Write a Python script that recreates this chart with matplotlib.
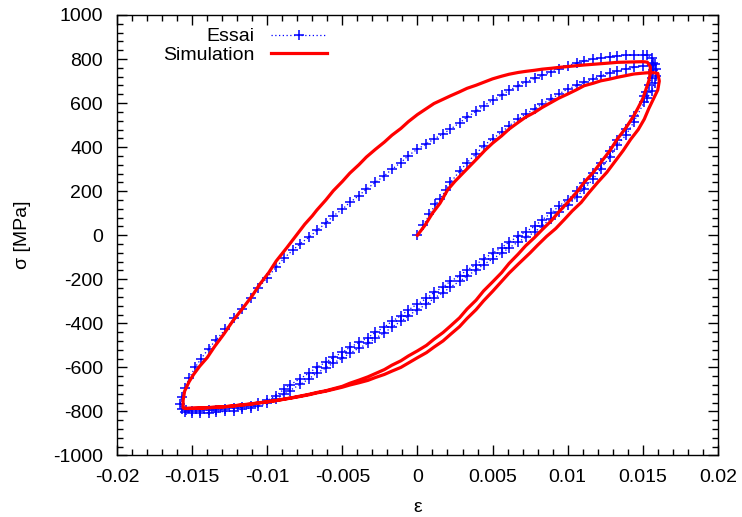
import numpy as np
import matplotlib.pyplot as plt
from matplotlib.ticker import MultipleLocator

essai_load = [(0, 0), (0.0004, 45), (0.0008, 95), (0.0012, 140), (0.0015, 164), (0.0019, 205),
              (0.0022, 240), (0.0028, 290), (0.0033, 330), (0.0039, 370), (0.0044, 406), (0.0050, 438),
              (0.0056, 467), (0.0061, 497), (0.0067, 527), (0.0072, 550), (0.0078, 573), (0.0083, 596),
              (0.0089, 618), (0.0094, 641), (0.0100, 664), (0.0106, 680), (0.0111, 694), (0.0117, 710),
              (0.0122, 724), (0.0128, 736), (0.0133, 747), (0.0139, 755), (0.0144, 762), (0.0150, 768),
              (0.0156, 773), (0.0158, 778)]
essai_unload1 = [(0.0159, 755), (0.0159, 725), (0.0158, 690), (0.0156, 655), (0.0153, 625), (0.0151, 605),
                 (0.0144, 514), (0.0139, 457), (0.0133, 408), (0.0128, 355), (0.0122, 302), (0.0117, 255),
                 (0.0111, 211), (0.0106, 173), (0.0100, 136), (0.0094, 105), (0.0089, 75), (0.0083, 44),
                 (0.0078, 14), (0.0072, -10), (0.0067, -31), (0.0061, -57), (0.0056, -82), (0.0050, -108),
                 (0.0044, -133), (0.0039, -159), (0.0033, -184), (0.0028, -210), (0.0022, -235), (0.0017, -261),
                 (0.0011, -286), (0.0006, -313), (0, -338), (-0.0006, -365), (-0.0011, -391), (-0.0017, -417),
                 (-0.0022, -443), (-0.0028, -467), (-0.0033, -491), (-0.0039, -513), (-0.0045, -535),
                 (-0.0050, -558), (-0.0056, -580), (-0.0061, -603), (-0.0067, -625), (-0.0072, -651),
                 (-0.0078, -677), (-0.0085, -705), (-0.0089, -722), (-0.0094, -745), (-0.0100, -764),
                 (-0.0106, -776), (-0.0111, -784), (-0.0117, -791), (-0.0122, -796), (-0.0128, -800),
                 (-0.0134, -803), (-0.0139, -805), (-0.0145, -806), (-0.0150, -806), (-0.0155, -803),
                 (-0.0157, -790)]
essai_reload = [(-0.0158, -765), (-0.0157, -735), (-0.0155, -695), (-0.0152, -650), (-0.0148, -600),
                (-0.0144, -560), (-0.0139, -515), (-0.0134, -475), (-0.0128, -428), (-0.0122, -378),
                (-0.0117, -333), (-0.0111, -285), (-0.0106, -240), (-0.0100, -192), (-0.0094, -145),
                (-0.0089, -105), (-0.0083, -68), (-0.0078, -38), (-0.0072, -8), (-0.0067, 22), (-0.0061, 55),
                (-0.0056, 88), (-0.0050, 118), (-0.0045, 149), (-0.0039, 180), (-0.0034, 209), (-0.0028, 240),
                (-0.0022, 270), (-0.0017, 300), (-0.0011, 330), (-0.0006, 362), (0, 391), (0.0006, 415),
                (0.0011, 437), (0.0017, 460), (0.0022, 482), (0.0028, 510), (0.0033, 537), (0.0039, 562),
                (0.0044, 588), (0.0050, 612), (0.0056, 636), (0.0061, 658), (0.0067, 679), (0.0072, 696),
                (0.0078, 712), (0.0083, 726), (0.0089, 739), (0.0094, 756), (0.0100, 770), (0.0106, 782),
                (0.0111, 792), (0.0117, 800), (0.0122, 806), (0.0128, 810), (0.0133, 815), (0.0139, 817),
                (0.0144, 818), (0.0150, 819), (0.0153, 818)]
essai_unload2 = [(0.0156, 805), (0.0157, 780), (0.0157, 750), (0.0156, 715), (0.0154, 680), (0.0152, 650),
                 (0.0151, 631), (0.0144, 540), (0.0139, 483), (0.0133, 434), (0.0128, 381), (0.0122, 328),
                 (0.0117, 281), (0.0111, 237), (0.0106, 199), (0.0100, 162), (0.0094, 131), (0.0089, 101),
                 (0.0083, 70), (0.0078, 40), (0.0072, 16), (0.0067, -5), (0.0061, -31), (0.0056, -56),
                 (0.0050, -82), (0.0044, -107), (0.0039, -133), (0.0033, -158), (0.0028, -184), (0.0022, -209),
                 (0.0017, -235), (0.0011, -260), (0.0006, -287), (0, -312), (-0.0006, -339), (-0.0011, -365),
                 (-0.0017, -391), (-0.0022, -417), (-0.0028, -441), (-0.0033, -465), (-0.0039, -487),
                 (-0.0045, -509), (-0.0050, -532), (-0.0056, -554), (-0.0061, -577), (-0.0067, -599),
                 (-0.0072, -625), (-0.0078, -651), (-0.0085, -680), (-0.0089, -700), (-0.0094, -728),
                 (-0.0100, -750), (-0.0106, -764), (-0.0111, -774), (-0.0117, -781), (-0.0122, -786),
                 (-0.0128, -790), (-0.0134, -793), (-0.0139, -795), (-0.0145, -796), (-0.0150, -797),
                 (-0.0154, -795)]

# Simulation
simu_load = [(0, 0), (0.0005, 45), (0.0010, 100), (0.0015, 145), (0.0020, 205), (0.0025, 245),
             (0.0030, 280), (0.0035, 315), (0.0040, 350), (0.0045, 386), (0.0050, 418), (0.0056, 451),
             (0.0061, 482), (0.0067, 512), (0.0072, 536), (0.0078, 558), (0.0083, 580), (0.0089, 603),
             (0.0094, 622), (0.0100, 641), (0.0106, 661), (0.0111, 679), (0.0117, 690), (0.0122, 701),
             (0.0128, 709), (0.0133, 717), (0.0139, 725), (0.0144, 732), (0.0150, 736), (0.0156, 739),
             (0.0160, 735)]
simu_unload1 = [(0.0161, 700), (0.0160, 660), (0.0157, 618), (0.0154, 575), (0.0151, 527), (0.0147, 480),
                (0.0142, 436), (0.0137, 385), (0.0131, 330), (0.0126, 285), (0.0120, 240), (0.0114, 192),
                (0.0109, 149), (0.0103, 110), (0.0098, 73), (0.0092, 30), (0.0086, -5), (0.0080, -45),
                (0.0075, -80), (0.0067, -132), (0.0061, -172), (0.0056, -210), (0.0050, -255), (0.0044, -298),
                (0.0039, -338), (0.0033, -378), (0.0028, -415), (0.0022, -450), (0.0017, -480), (0.0011, -508),
                (0.0006, -533), (0, -556), (-0.0006, -580), (-0.0011, -600), (-0.0017, -617), (-0.0022, -632),
                (-0.0028, -646), (-0.0033, -659), (-0.0039, -670), (-0.0045, -680), (-0.0050, -690),
                (-0.0056, -700), (-0.0061, -708), (-0.0067, -716), (-0.0072, -724), (-0.0078, -732),
                (-0.0083, -738), (-0.0089, -745), (-0.0094, -751), (-0.0100, -757), (-0.0106, -762),
                (-0.0111, -767), (-0.0117, -771), (-0.0122, -775), (-0.0128, -779), (-0.0133, -781),
                (-0.0139, -783), (-0.0144, -785), (-0.0150, -786), (-0.0154, -787), (-0.0156, -784)]
simu_reload = [(-0.0156, -750), (-0.0155, -708), (-0.0152, -665), (-0.0149, -632), (-0.0145, -595),
               (-0.0140, -556), (-0.0135, -505), (-0.0129, -450), (-0.0123, -390), (-0.0116, -329),
               (-0.0110, -275), (-0.0105, -223), (-0.0099, -170), (-0.0094, -117), (-0.0087, -57),
               (-0.0080, 5), (-0.0075, 50), (-0.0070, 88), (-0.0067, 114), (-0.0061, 160), (-0.0056, 202),
               (-0.0050, 244), (-0.0045, 282), (-0.0039, 320), (-0.0034, 355), (-0.0028, 390), (-0.0022, 423),
               (-0.0017, 454), (-0.0011, 485), (-0.0006, 516), (0, 548), (0.0006, 575), (0.0011, 598),
               (0.0017, 617), (0.0022, 633), (0.0028, 651), (0.0033, 667), (0.0039, 681), (0.0044, 694),
               (0.0050, 710), (0.0056, 722), (0.0061, 731), (0.0067, 739), (0.0072, 744), (0.0078, 749),
               (0.0083, 754), (0.0089, 758), (0.0094, 762), (0.0100, 766), (0.0106, 770), (0.0111, 773),
               (0.0117, 776), (0.0122, 779), (0.0128, 782), (0.0133, 785), (0.0139, 786), (0.0144, 787),
               (0.0150, 788), (0.0153, 786)]
simu_unload2 = [(0.0155, 765), (0.0155, 735), (0.0154, 700), (0.0152, 660), (0.0150, 620), (0.0147, 580),
                (0.0144, 542), (0.0139, 490), (0.0133, 436), (0.0128, 383), (0.0122, 330), (0.0117, 285),
                (0.0111, 240), (0.0106, 195), (0.0100, 149), (0.0094, 105), (0.0089, 65), (0.0083, 25),
                (0.0078, -10), (0.0072, -48), (0.0067, -86), (0.0061, -128), (0.0056, -170), (0.0050, -212),
                (0.0044, -253), (0.0039, -295), (0.0033, -335), (0.0028, -375), (0.0022, -412), (0.0017, -442),
                (0.0011, -472), (0.0006, -500), (0, -525), (-0.0006, -548), (-0.0011, -570), (-0.0017, -590),
                (-0.0022, -610), (-0.0028, -628), (-0.0033, -643), (-0.0039, -658), (-0.0045, -672),
                (-0.0050, -686), (-0.0056, -697), (-0.0061, -706), (-0.0067, -714), (-0.0072, -722),
                (-0.0078, -730), (-0.0083, -737), (-0.0089, -744), (-0.0094, -750), (-0.0100, -756),
                (-0.0106, -761), (-0.0111, -766), (-0.0117, -770), (-0.0122, -774), (-0.0128, -778),
                (-0.0133, -780), (-0.0139, -782), (-0.0144, -784), (-0.0150, -785), (-0.0154, -786)]

essai = np.array(essai_load + essai_unload1 + essai_reload + essai_unload2)
simu = np.array(simu_load + simu_unload1 + simu_reload + simu_unload2)

plt.rcParams['font.family'] = ['Liberation Sans', 'DejaVu Sans']
plt.rcParams['font.size'] = 14
plt.rcParams['axes.unicode_minus'] = False

fig = plt.figure(figsize=(7.42, 5.17), dpi=100)
ax = fig.add_axes([0.1577, 0.119, 0.8098, 0.852])

ax.plot(essai[:, 0], essai[:, 1], color='#0000ff', lw=0.9, ls=(0, (1, 2)),
        marker='+', ms=6.5, mew=1.1, label='Essai')
ax.plot(simu[:, 0], simu[:, 1], color='#ff0000', lw=2.3, label='Simulation')

ax.set_xlim(-0.02, 0.02)
ax.set_ylim(-1000, 1000)
ax.xaxis.set_minor_locator(MultipleLocator(0.001))
ax.yaxis.set_major_locator(MultipleLocator(200))
ax.yaxis.set_minor_locator(MultipleLocator(40))
ax.set_xticks(np.arange(-0.02, 0.0201, 0.005))
ax.set_xticklabels(['-0.02', '-0.015', '-0.01', '-0.005', '0', '0.005', '0.01', '0.015', '0.02'])
ax.tick_params(which='both', direction='in', top=True, right=True)
ax.tick_params(which='major', length=7, width=1)
ax.tick_params(axis='x', which='major', pad=10)
ax.tick_params(axis='y', which='major', pad=10)
ax.tick_params(which='minor', length=4, width=1)
for s in ax.spines.values():
    s.set_linewidth(1)

ax.set_xlabel('ε', labelpad=9)
ax.set_ylabel('σ [MPa]', labelpad=16)

leg = ax.legend(loc='upper right', bbox_to_anchor=(0.372, 1.002), frameon=False,
                markerfirst=False, handlelength=2.9, labelspacing=0.05,
                borderpad=0.2, handletextpad=0.8)

fig.savefig('out.png', dpi=100)
